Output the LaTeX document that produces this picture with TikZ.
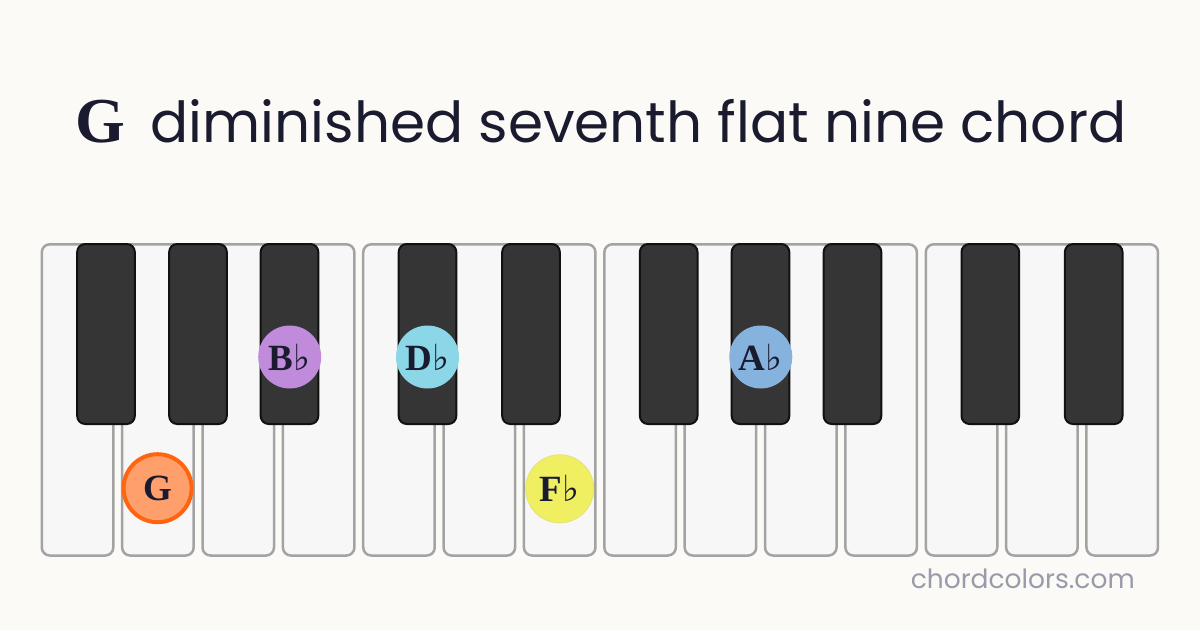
\documentclass[tikz,border=0pt]{standalone}
\usepackage{fontspec}
\setmainfont{Liberation Serif}
\newfontfamily\titlesans{Poppins}
\newfontfamily\notefont{Liberation Serif}
\newfontfamily\flatfont{DejaVu Serif}
\definecolor{bg}{HTML}{FBFAF6}
\definecolor{ink}{HTML}{1B1B2F}
\definecolor{wkfill}{HTML}{F7F7F7}
\definecolor{wkline}{HTML}{A3A3A3}
\definecolor{bkfill}{HTML}{353535}
\definecolor{bkline}{HTML}{111111}
\definecolor{gfill}{HTML}{FFA06C}
\definecolor{gline}{HTML}{FF6410}
\definecolor{bbfill}{HTML}{C08BDA}
\definecolor{dbfill}{HTML}{8BD7E8}
\definecolor{fbfill}{HTML}{F0EF62}
\definecolor{fbline}{HTML}{E2E57A}
\definecolor{abfill}{HTML}{85B3DE}
\definecolor{wm}{HTML}{9A9AAA}
\newcommand{\fl}{{\flatfont\fontsize{36}{36}\selectfont ♭}}
\tikzset{
  whitekey/.style={fill=wkfill, draw=wkline, line width=2.5pt, rounded corners=8pt},
  blackkey/.style={fill=bkfill, draw=bkline, line width=2pt, rounded corners=8pt},
  notedot/.style={circle, inner sep=0pt, text=ink, font=\notefont\bfseries\fontsize{37}{37}\selectfont},
}
\begin{document}
\begin{tikzpicture}[x=1pt,y=-1pt]
\fill[bg] (0,0) rectangle (1200,630);
\useasboundingbox (0,0) rectangle (1200,630);
% title
\node[anchor=base, text=ink, inner sep=0pt] (title) at (601,142)
  {{\notefont\bfseries\fontsize{64}{64}\selectfont G}\hspace{25pt}{\titlesans\fontsize{56.5}{60}\selectfont diminished seventh flat nine chord}};
% white keys
\foreach \i in {0,...,13} {
  \pgfmathsetmacro{\xl}{41.8+\i*80.36}
  \pgfmathsetmacro{\xr}{\xl+71.5}
  \draw[whitekey] (\xl,244.3) rectangle (\xr,555.5);
}
% black keys
\foreach \c in {106,198,289.5,427.5,531,668.7,760.5,852.5,990.3,1093.7} {
  \draw[blackkey] ({\c-28.8},244) rectangle ({\c+28.8},424);
}
% notes
\node[notedot, fill=gfill, draw=gline, line width=4pt, minimum size=68pt] (g) at (157.6,488.2) {G};
\node[notedot, fill=bbfill, minimum size=63pt] (bb) at (289.7,357) {B\fl};
\node[notedot, fill=dbfill, minimum size=63pt] (db) at (427.5,357) {D\fl};
\node[notedot, fill=fbfill, draw=fbline, line width=1pt, minimum size=68pt] (fb) at (559.7,488.8) {F\fl};
\node[notedot, fill=abfill, minimum size=63pt] (ab) at (760.8,357) {A\fl};
% watermark
\node[anchor=base east, text=wm, inner sep=0pt, font=\titlesans\fontsize{26.5}{26.5}\selectfont] (wm) at (1135,588) {chordcolors.com};
\end{tikzpicture}
\end{document}
